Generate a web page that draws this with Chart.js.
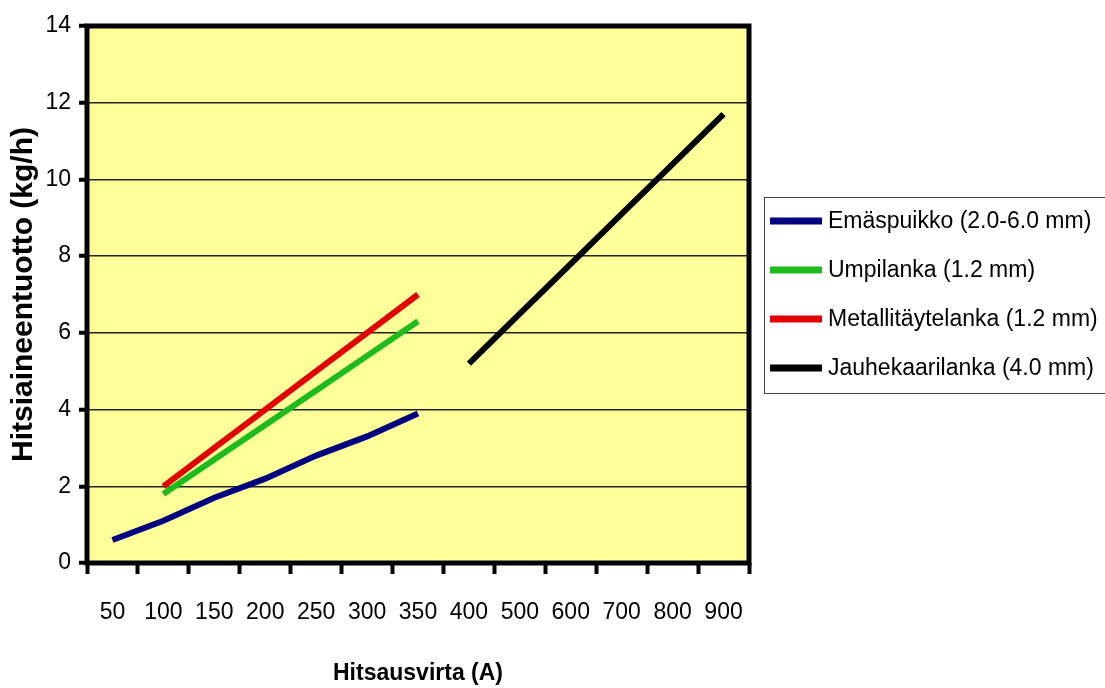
<!DOCTYPE html>
<html>
<head>
<meta charset="utf-8">
<script src="https://cdn.jsdelivr.net/npm/chart.js@4.4.1/dist/chart.umd.min.js"></script>
<style>
  html, body { margin: 0; padding: 0; background: #fff; }
  #wrap { width: 1105px; height: 688px; }
</style>
</head>
<body>
<div id="wrap"><canvas id="myChart"></canvas></div>
<script>
const categories = ['50', '100', '150', '200', '250', '300', '350', '400', '500', '600', '700', '800', '900'];
const emaspuikko = [0.6, 1.1, 1.7, 2.2, 2.8, 3.3, 3.9, null, null, null, null, null, null];
const umpilanka = [null, 1.8, 2.7, 3.6, 4.5, 5.4, 6.3, null, null, null, null, null, null];
const metallitaytelanka = [null, 2.0, 3.0, 4.0, 5.0, 6.0, 7.0, null, null, null, null, null, null];
const jauhekaarilanka = [null, null, null, null, null, null, null, 5.2, 6.5, 7.8, 9.1, 10.4, 11.7];
const yTicks = [0, 2, 4, 6, 8, 10, 12, 14];

const FONT = '"Liberation Sans", Arial, sans-serif';

// yellow plot background + thick frame
const plotFrame = {
    id: 'plotFrame',
    beforeDraw(chart) {
        const { ctx, chartArea: a } = chart;
        ctx.save();
        ctx.fillStyle = '#FFFF99';
        ctx.fillRect(a.left, a.top, a.right - a.left, a.bottom - a.top);
        ctx.restore();
    },
    afterDraw(chart) {
        const { ctx, chartArea: a } = chart;
        ctx.save();
        ctx.strokeStyle = '#000';
        ctx.lineWidth = 5;
        ctx.strokeRect(a.left, a.top, a.right - a.left, a.bottom - a.top);
        ctx.restore();
    }
};

// legend box to the right of the plot
const sideLegend = {
    id: 'sideLegend',
    afterDraw(chart) {
        const ctx = chart.ctx;
        const x0 = 764, y0 = 197;
        ctx.save();
        ctx.strokeStyle = '#444';
        ctx.lineWidth = 1;
        ctx.strokeRect(x0 + 0.5, y0 + 0.5, 360, 196);
        ctx.font = '23px ' + FONT;
        ctx.textBaseline = 'middle';
        ctx.fillStyle = '#000';
        chart.data.datasets.forEach((ds, i) => {
            const y = 221 + i * 49;
            ctx.strokeStyle = ds.borderColor;
            ctx.lineWidth = 7;
            ctx.beginPath();
            ctx.moveTo(770, y);
            ctx.lineTo(822, y);
            ctx.stroke();
            ctx.fillText(ds.label, 828, y + 1);
        });
        ctx.restore();
    }
};

const makeSet = (label, data, color) => ({
    label: label,
    data: data,
    borderColor: color,
    backgroundColor: color,
    borderWidth: 6,
    borderCapStyle: 'butt',
    pointRadius: 0,
    fill: false,
    tension: 0,
    spanGaps: false
});

const ctx = document.getElementById('myChart').getContext('2d');
const myChart = new Chart(ctx, {
    type: 'line',
    data: {
        labels: categories,
        datasets: [
            makeSet('Emäspuikko (2.0-6.0 mm)', emaspuikko, '#000080'),
            makeSet('Umpilanka (1.2 mm)', umpilanka, '#1EBB1E'),
            makeSet('Metallitäytelanka (1.2 mm)', metallitaytelanka, '#E20000'),
            makeSet('Jauhekaarilanka (4.0 mm)', jauhekaarilanka, '#000000')
        ]
    },
    options: {
        responsive: true,
        maintainAspectRatio: false,
        animation: false,
        layout: { padding: { top: 26, right: 356, bottom: 0, left: 0 } },
        plugins: {
            legend: { display: false },
            tooltip: { enabled: false }
        },
        scales: {
            x: {
                offset: true,
                grid: {
                    offset: true,
                    drawOnChartArea: false,
                    tickLength: 11,
                    tickWidth: 4,
                    tickColor: '#000'
                },
                border: { display: false },
                ticks: {
                    color: '#000',
                    padding: 25,
                    maxRotation: 0,
                    font: { family: FONT, size: 23 }
                },
                title: {
                    display: true,
                    text: 'Hitsausvirta (A)',
                    color: '#000',
                    padding: { top: 4, bottom: 1 },
                    font: { family: FONT, size: 23, weight: 'bold' }
                },
                afterFit(scale) { scale.height = 125; }
            },
            y: {
                min: 0,
                max: 14,
                afterBuildTicks(scale) { scale.ticks = yTicks.map(v => ({ value: v })); },
                grid: {
                    color: '#222',
                    lineWidth: 1.5,
                    tickLength: 8,
                    tickWidth: 4,
                    tickColor: '#000'
                },
                border: { display: false },
                ticks: {
                    color: '#000',
                    padding: 8,
                    font: { family: FONT, size: 23 }
                },
                title: {
                    display: true,
                    text: 'Hitsiaineentuotto (kg/h)',
                    color: '#000',
                    padding: { top: 6, bottom: 0 },
                    font: { family: FONT, size: 30, weight: 'bold' }
                },
                afterFit(scale) { scale.width = 87; }
            }
        }
    },
    plugins: [plotFrame, sideLegend]
});
</script>
</body>
</html>
